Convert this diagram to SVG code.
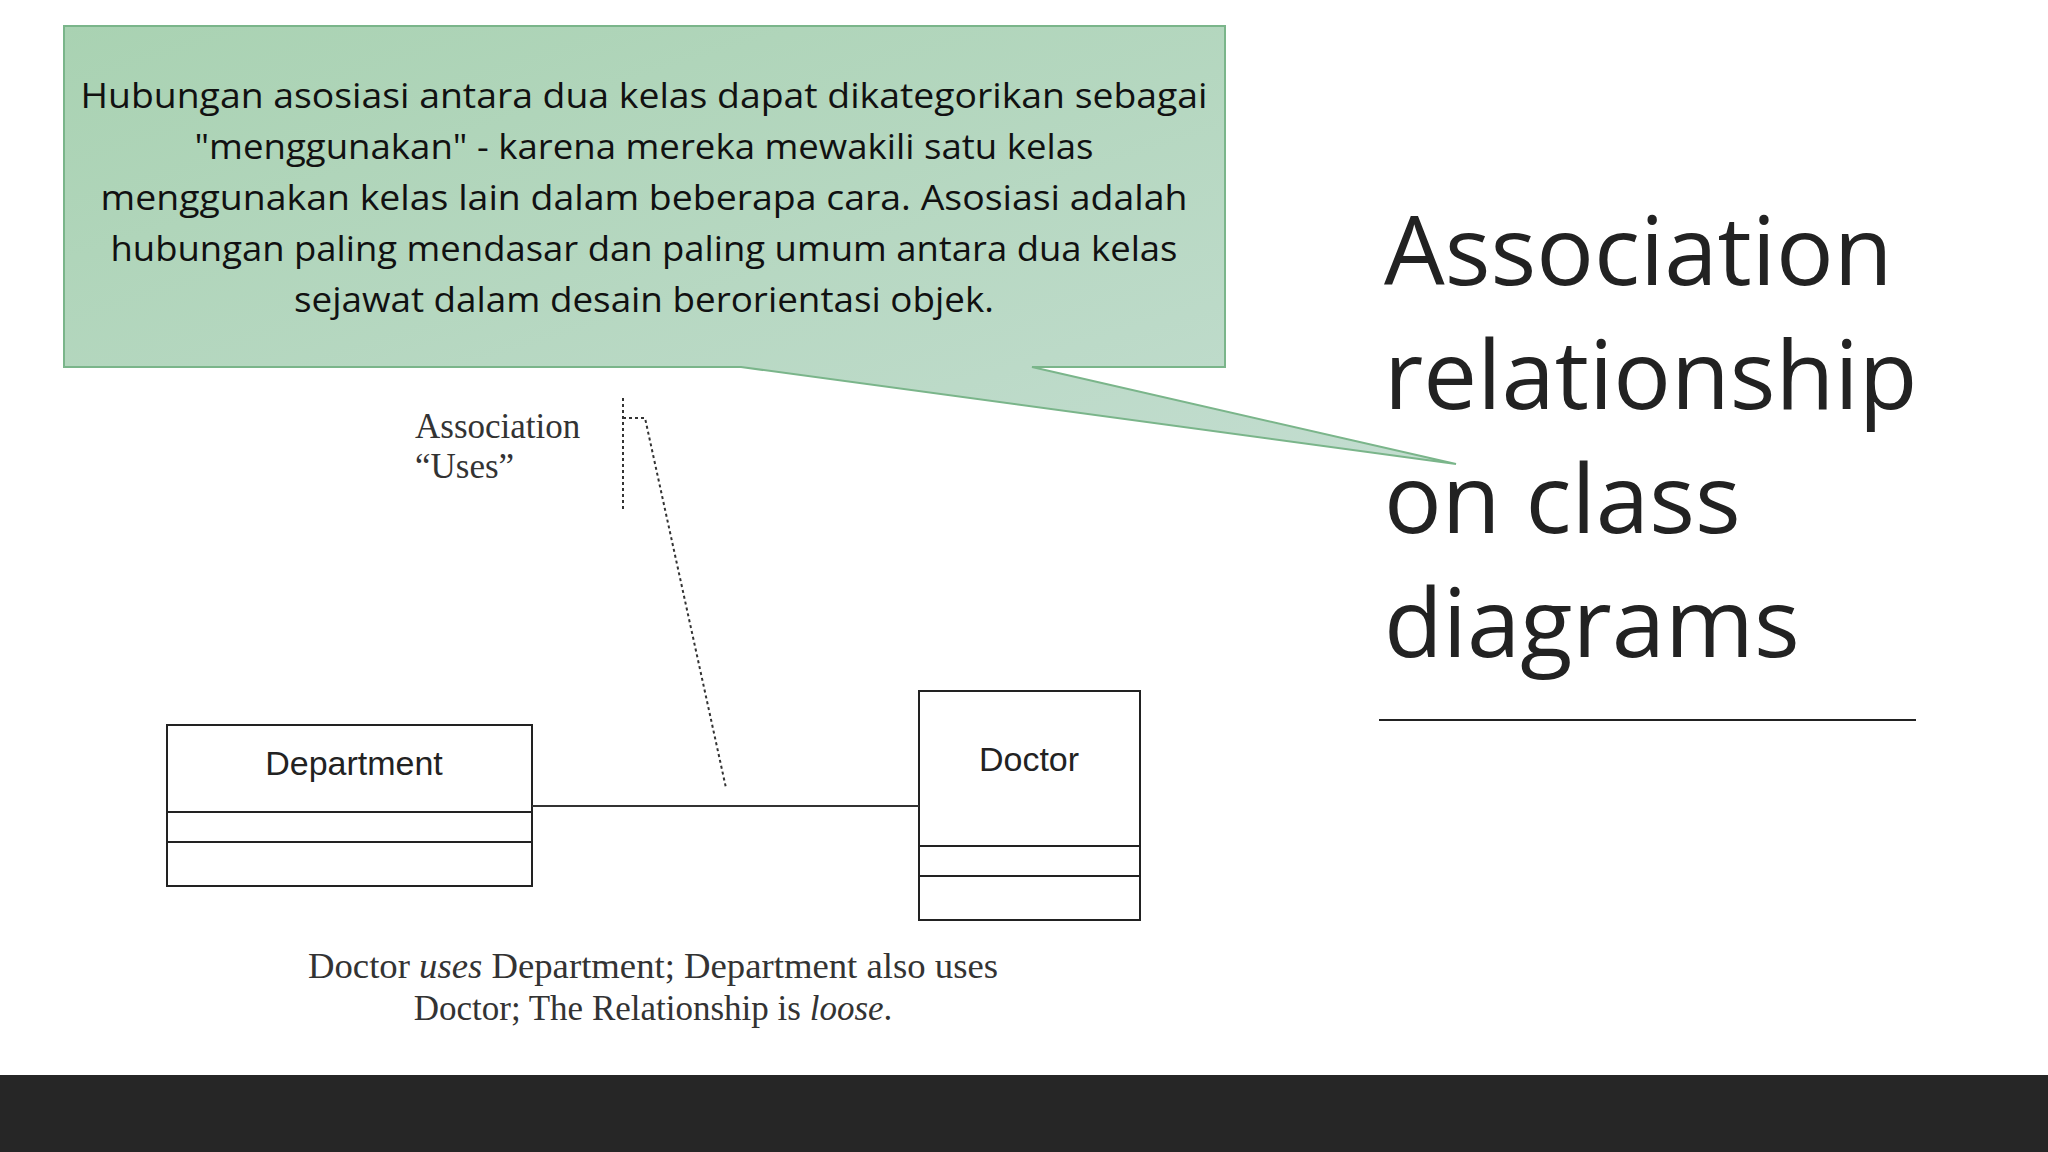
<svg xmlns="http://www.w3.org/2000/svg" width="2048" height="1152" viewBox="0 0 2048 1152">
<defs>
<linearGradient id="g" x1="0" y1="0" x2="1" y2="1"><stop offset="0" stop-color="#a9d2b2"/><stop offset="1" stop-color="#c3ddd0"/></linearGradient>
</defs>
<style>
.cl{font-family:"Open Sans","Liberation Sans",sans-serif;font-size:35px;fill:#111;text-anchor:middle}
.ti{font-family:"Open Sans","Liberation Sans",sans-serif;font-size:96px;fill:#222}
.nd{font-family:"Liberation Sans",sans-serif;font-size:34px;fill:#222;text-anchor:middle}
.sf{font-family:"Liberation Serif",serif;font-size:35px;fill:#333}
.box{fill:#fff;stroke:#222;stroke-width:2}
</style>
<rect width="2048" height="1152" fill="#fff"/>
<rect x="0" y="1075" width="2048" height="77" fill="#262626"/>
<g id="diagram">
<g id="department"><rect class="box" x="167" y="725" width="365" height="161"/><line x1="167" y1="812" x2="532" y2="812" stroke="#222" stroke-width="2"/><line x1="167" y1="842" x2="532" y2="842" stroke="#222" stroke-width="2"/><text class="nd" x="354" y="775">Department</text></g>
<g id="doctor"><rect class="box" x="919" y="691" width="221" height="229"/><line x1="919" y1="846" x2="1140" y2="846" stroke="#222" stroke-width="2"/><line x1="919" y1="876" x2="1140" y2="876" stroke="#222" stroke-width="2"/><text class="nd" x="1029" y="771">Doctor</text></g>
<g id="connectors" fill="none" stroke="#333">
<line x1="532" y1="806" x2="919" y2="806" stroke-width="2"/>
<path d="M623 398 V509 M623 418 H645 L726 788" stroke-width="2" stroke-dasharray="3,3"/>
</g>
<g id="assoc-label"><text class="sf" x="415" y="438">Association</text><text class="sf" x="415" y="478">“Uses”</text></g>
<g id="caption" class="sf" text-anchor="middle"><text x="653" y="978" textLength="690" lengthAdjust="spacingAndGlyphs">Doctor <tspan font-style="italic">uses</tspan> Department; Department also uses</text><text x="653" y="1020">Doctor; The Relationship is <tspan font-style="italic">loose</tspan>.</text></g>
</g>
<g id="callout">
<path d="M64 26 H1225 V367 H1032 L1456 464 L741 367 H64 Z" fill="url(#g)" stroke="#7ab58a" stroke-width="2"/>
<text class="cl" x="644" y="108" textLength="1127" lengthAdjust="spacingAndGlyphs">Hubungan asosiasi antara dua kelas dapat dikategorikan sebagai</text>
<text class="cl" x="644" y="159" textLength="899" lengthAdjust="spacingAndGlyphs">"menggunakan" - karena mereka mewakili satu kelas</text>
<text class="cl" x="644" y="210" textLength="1087" lengthAdjust="spacingAndGlyphs">menggunakan kelas lain dalam beberapa cara. Asosiasi adalah</text>
<text class="cl" x="644" y="261" textLength="1067" lengthAdjust="spacingAndGlyphs">hubungan paling mendasar dan paling umum antara dua kelas</text>
<text class="cl" x="644" y="312" textLength="700" lengthAdjust="spacingAndGlyphs">sejawat dalam desain berorientasi objek.</text>
</g>
<g id="title"><text class="ti" x="1384" y="285">Association</text><text class="ti" x="1384" y="409">relationship</text><text class="ti" x="1384" y="533">on class</text><text class="ti" x="1384" y="657">diagrams</text>
<line x1="1379" y1="720" x2="1916" y2="720" stroke="#222" stroke-width="2"/></g>
</svg>
